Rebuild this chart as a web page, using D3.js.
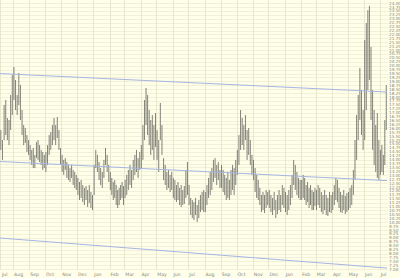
<!DOCTYPE html>
<html>
<head>
<meta charset="utf-8">
<script src="https://cdn.jsdelivr.net/npm/d3@7"></script>
<style>
  html, body { margin: 0; padding: 0; background: #fdfde9; }
  svg { display: block; }
  text { font-family: "DejaVu Sans", sans-serif; }
</style>
</head>
<body>
<div id="chart"></div>
<script>
// months shown on the chart (first and last are partial)
const months = ["2004-07","2004-08","2004-09","2004-10","2004-11","2004-12",
  "2005-01","2005-02","2005-03","2005-04","2005-05","2005-06",
  "2005-07","2005-08","2005-09","2005-10","2005-11","2005-12",
  "2006-01","2006-02","2006-03","2006-04","2006-05","2006-06","2006-07"];
const monthLabels = ["Jul","Aug","Sep","Oct","Nov","Dec","Jan","Feb","Mar","Apr","May","Jun",
  "Jul","Aug","Sep","Oct","Nov","Dec","Jan","Feb","Mar","Apr","May","Jun","Jul"];
const firstDay = "2004-07-07";
const lastDay = "2006-07-15";

// bar highs / lows, one list per month
const highs = [
  [15.89,15.25,17.49,17.81,16.66,16.53,18.13,19.41],
  [19.92,19.09,18.13,19.54,18.77,17.17,16.21,16.02,15.57,15.25],
  [14.93,14.62,14.74,14.30,15.13,15.25,14.93,14.62,14.49,14.30],
  [14.49,14.93,15.57,15.77,16.21,16.66,16.21,16.72,15.89,14.74],
  [14.30,13.98,14.10,13.85,13.66,13.46,13.66,13.34,13.21,13.02],
  [12.83,12.57,12.70,12.38,12.19,12.31,12.06,12.38,11.93,11.74],
  [13.66,14.62,14.30,13.85,13.46,13.21,13.98,14.74,14.30,13.66],
  [13.21,12.83,12.57,12.70,12.38,12.06,12.19,12.38,12.57,12.31],
  [12.70,13.02,13.34,13.66,13.34,13.98,14.30,14.62,14.10,14.49],
  [14.93,16.21,17.81,18.58,18.13,17.17,16.53,16.85,16.21,16.98],
  [15.89,15.25,17.62,16.21,14.10,13.66,13.21,13.34,13.02,13.21],
  [12.83,12.70,12.38,12.57,12.19,12.38,12.06,12.31,13.34,13.85],
  [12.38,11.55,11.42,11.29,11.55,11.10,11.42,11.74,11.93,12.06],
  [11.93,12.38,12.83,13.21,13.46,13.98,14.10,13.66,13.85,13.34],
  [13.66,13.34,13.02,12.83,13.21,12.70,13.34,13.66,13.46,13.98],
  [14.62,15.57,17.17,16.66,16.21,16.85,15.89,16.02,15.25,14.30],
  [13.98,13.46,13.02,12.70,12.19,11.74,11.93,11.74,12.06,11.93],
  [12.06,11.74,11.55,11.93,11.42,11.74,12.06,11.74,12.38,12.19],
  [11.93,11.74,12.06,12.38,13.02,13.98,13.66,13.21,12.83,12.70],
  [12.70,13.02,12.83,12.38,12.57,12.19,12.38,12.06,11.93,12.19],
  [12.06,12.38,12.19,11.93,11.74,12.06,11.74,11.55,11.93,11.74],
  [11.93,12.38,12.83,12.70,12.19,11.93,11.74,12.06,11.68,11.87],
  [11.93,12.19,12.38,13.34,15.25,16.85,18.13,19.86,18.45,17.17],
  [21.64,22.73,23.56,23.82,21.20,18.45,17.17,16.21,16.98,15.25],
  [14.62,14.93,14.30,16.53,18.77]
];
const lows = [
  [14.62,13.98,15.25,15.57,15.25,14.93,15.89,16.85],
  [17.81,17.17,16.85,17.49,16.53,15.57,14.93,15.06,14.49,14.30],
  [13.98,13.66,13.46,13.46,14.10,13.98,13.85,13.66,13.34,13.46],
  [13.21,13.66,14.30,14.62,14.93,15.25,14.93,15.38,14.62,13.66],
  [13.21,13.02,13.34,12.83,12.70,12.57,12.83,12.38,12.19,12.06],
  [11.74,11.42,11.55,11.29,11.10,11.42,10.97,11.23,10.91,10.78],
  [11.74,13.46,13.21,12.70,12.38,12.19,12.83,13.66,13.21,12.57],
  [12.06,11.74,11.42,11.55,11.10,10.91,11.10,11.42,11.55,11.10],
  [11.55,11.74,12.06,12.38,12.19,12.70,13.02,13.21,12.83,13.34],
  [13.46,13.98,15.25,16.21,15.57,14.93,14.30,14.62,13.98,14.81],
  [13.98,13.21,15.25,14.30,12.70,12.38,12.06,12.19,11.93,12.06],
  [11.55,11.42,11.29,11.42,11.10,10.97,11.10,11.17,11.55,11.74],
  [11.10,10.46,10.27,10.14,10.46,10.01,10.27,10.65,10.78,10.65],
  [10.65,11.10,11.55,11.74,12.06,12.57,12.83,12.38,12.70,12.19],
  [12.19,11.93,11.74,11.42,11.55,11.42,11.74,12.06,11.74,12.38],
  [13.02,13.66,14.62,14.93,14.62,15.25,13.98,14.30,13.66,13.02],
  [12.70,11.93,11.55,11.42,11.10,10.65,10.78,10.59,10.91,11.10],
  [10.91,10.65,10.46,10.78,10.27,10.52,10.78,10.65,11.10,10.91],
  [10.65,10.46,10.78,11.10,11.55,12.38,12.06,11.74,11.55,11.42],
  [11.42,11.55,11.42,11.10,11.29,10.91,11.10,10.78,10.78,11.04],
  [10.78,11.10,10.91,10.65,10.52,10.78,10.46,10.40,10.65,10.59],
  [10.78,11.10,11.42,11.29,10.91,10.65,10.59,10.78,10.52,10.65],
  [10.78,10.91,11.10,11.74,12.70,13.98,15.25,16.53,15.57,14.62],
  [15.25,17.17,18.45,19.09,16.53,14.62,13.66,13.21,12.83,12.70],
  [13.02,13.21,13.02,13.66,15.89]
];

// trend lines: value at firstDay, value at lastDay
const upperTrend = [19.50, 18.32];
const middleTrend = [13.88, 12.66];
const lowerTrend = [8.99, 7.07];

// price axis
const priceMin = 7.0, priceMax = 24.0, priceStep = 0.25;

const W = 400, H = 278;
const plotRight = 387, plotBottom = 270;

const parse = d3.timeParse("%Y-%m-%d");
const start = parse(firstDay), end = parse(lastDay);

const x = d3.scaleTime().domain([start, end]).range([0, plotRight]);
const y = d3.scaleLinear().domain([6.947, 24.2]).range([plotBottom, 0]);

// flatten the month lists into bars spread over each month
const bars = [];
months.forEach((m, k) => {
  const a = k === 0 ? start : parse(m + "-01");
  const b = k === months.length - 1 ? end : parse(months[k + 1] + "-01");
  const n = highs[k].length;
  highs[k].forEach((h, i) => {
    bars.push({ date: new Date(+a + (i + 0.5) / n * (b - a)), hi: h, lo: lows[k][i] });
  });
});

const svg = d3.select("#chart").append("svg")
  .attr("width", W)
  .attr("height", H);

svg.append("rect").attr("width", W).attr("height", H).attr("fill", "#fefee9");

const ticks = d3.range(priceMin, priceMax + 0.001, priceStep);

// horizontal grid
svg.append("g")
  .selectAll("line")
  .data(ticks)
  .enter()
  .append("line")
  .attr("x1", 0)
  .attr("x2", plotRight + 1)
  .attr("y1", d => Math.round(y(d)) + 0.5)
  .attr("y2", d => Math.round(y(d)) + 0.5)
  .attr("stroke", "#f1f0d8")
  .attr("stroke-width", 1);

// vertical month grid
const monthStarts = months.map((m, k) => k === 0 ? start : parse(m + "-01"));
svg.append("g")
  .selectAll("line")
  .data(monthStarts)
  .enter()
  .append("line")
  .attr("x1", d => Math.round(x(d)) + 0.5)
  .attr("x2", d => Math.round(x(d)) + 0.5)
  .attr("y1", 0)
  .attr("y2", plotBottom)
  .attr("stroke", "#e8e7cd")
  .attr("stroke-width", 1);

// price bars
svg.append("g")
  .selectAll("line")
  .data(bars)
  .enter()
  .append("line")
  .attr("x1", d => x(d.date))
  .attr("x2", d => x(d.date))
  .attr("y1", d => y(d.hi))
  .attr("y2", d => y(d.lo))
  .attr("stroke", "#5a5a54")
  .attr("stroke-width", 0.75);

// trend lines
const trendLine = d3.line().x(d => x(d[0])).y(d => y(d[1]));
[upperTrend, middleTrend, lowerTrend].forEach(t => {
  svg.append("path")
    .attr("d", trendLine([[start, t[0]], [end, t[1]]]))
    .attr("fill", "none")
    .attr("stroke", "#a6b5e4")
    .attr("stroke-width", 1);
});

// right price labels
svg.append("g")
  .selectAll("text")
  .data(ticks)
  .enter()
  .append("text")
  .attr("x", 389)
  .attr("y", d => y(d) + 1.5)
  .attr("font-size", 4.2)
  .attr("fill", "#85857a")
  .text(d => d3.format(".2f")(d));

// month labels
svg.append("g")
  .selectAll("text")
  .data(monthStarts)
  .enter()
  .append("text")
  .attr("x", (d, k) => k === 0 ? 2 : x(d) + 1)
  .attr("y", 275.5)
  .attr("font-size", 4.6)
  .attr("fill", "#85857a")
  .text((d, k) => monthLabels[k]);
</script>
</body>
</html>
